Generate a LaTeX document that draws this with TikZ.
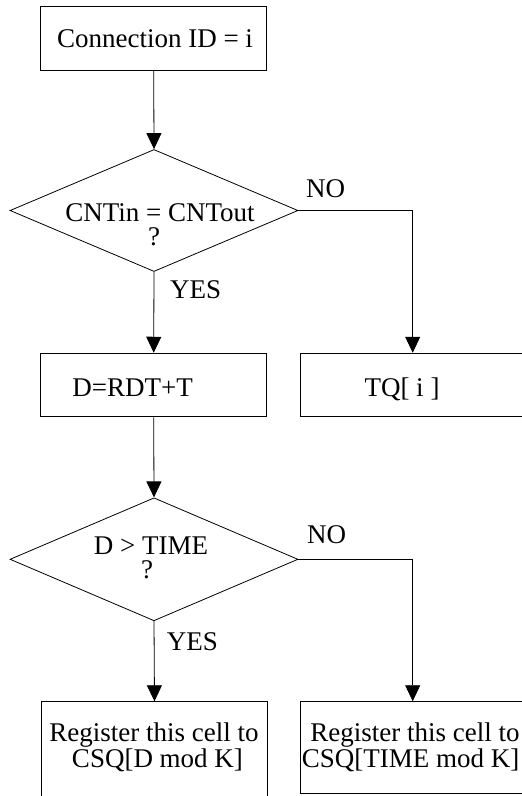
\documentclass[tikz,border=0pt]{standalone}
\usepackage{fontspec}
\setmainfont{Liberation Serif}
\usetikzlibrary{shapes.geometric,arrows.meta}
\begin{document}
\begin{tikzpicture}[x=1pt,y=-1pt,
  box/.style={draw,line width=0.8pt,rectangle,inner sep=0pt},
  dia/.style={draw,line width=0.8pt,diamond,inner sep=0pt},
  lbl/.style={anchor=base,inner sep=0pt,align=center,font=\fontsize{27}{24}\selectfont},
  lblw/.style={anchor=base west,inner sep=0pt,font=\fontsize{27}{24}\selectfont},
  flow/.style={draw,line width=0.8pt,-{Triangle[width=15pt,length=16pt]}}]
\useasboundingbox (0,0) rectangle (522,796);
\clip (0,0) rectangle (522,796);
% shapes
\node[box,minimum width=226pt,minimum height=63.3pt] (b1) at (153.7,38.3) {};
\node[dia,minimum width=288pt,minimum height=122pt] (d1) at (154,210.5) {};
\node[box,minimum width=226pt,minimum height=63.7pt] (b2) at (153.7,385) {};
\node[box,minimum width=225.4pt,minimum height=63.7pt] (b3) at (412.7,385) {};
\node[dia,minimum width=288pt,minimum height=123pt] (d2) at (154,559.3) {};
\node[box,minimum width=226.4pt,minimum height=120pt] (b4) at (154.5,761.7) {};
\node[box,minimum width=225.4pt,minimum height=91.3pt] (b5) at (412.7,747.3) {};
% texts (multi-line nodes are anchored at the baseline of their last line)
\node[lbl] (t1) at (155,47.7) {Connection ID = i};
\node[lbl] (t2) at (160,245) {CNTin = CNTout\\?\hspace*{12pt}};
\node[lblw] (yes1) at (170,298) {YES};
\node[lblw] (no1) at (306,197) {NO};
\node[lbl] (t3) at (132.7,396.7) {D=RDT+T};
\node[lbl] (t4) at (402,396.7) {TQ[ i ]};
\node[lbl] (t5) at (151,578) {D > TIME\\?\hspace*{8pt}};
\node[lblw] (no2) at (307,543) {NO};
\node[lblw] (yes2) at (166.7,650) {YES};
\node[lbl] (t6) at (154,767) {Register this cell to\\\hspace*{7pt}CSQ[D mod K]};
\node[lbl] (t7) at (415,767) {Register this cell to\\CSQ[TIME mod K]\hspace*{9pt}};
% connectors
\draw[flow] (b1.south) -- (d1.north);
\draw[flow] (d1.south) -- (b2.north);
\draw[flow] (d1.east) -| (b3.north);
\draw[flow] (b2.south) -- (d2.north);
\draw[flow] (d2.south) -- (b4.north);
\draw[flow] (d2.east) -| (b5.north);
\end{tikzpicture}
\end{document}
